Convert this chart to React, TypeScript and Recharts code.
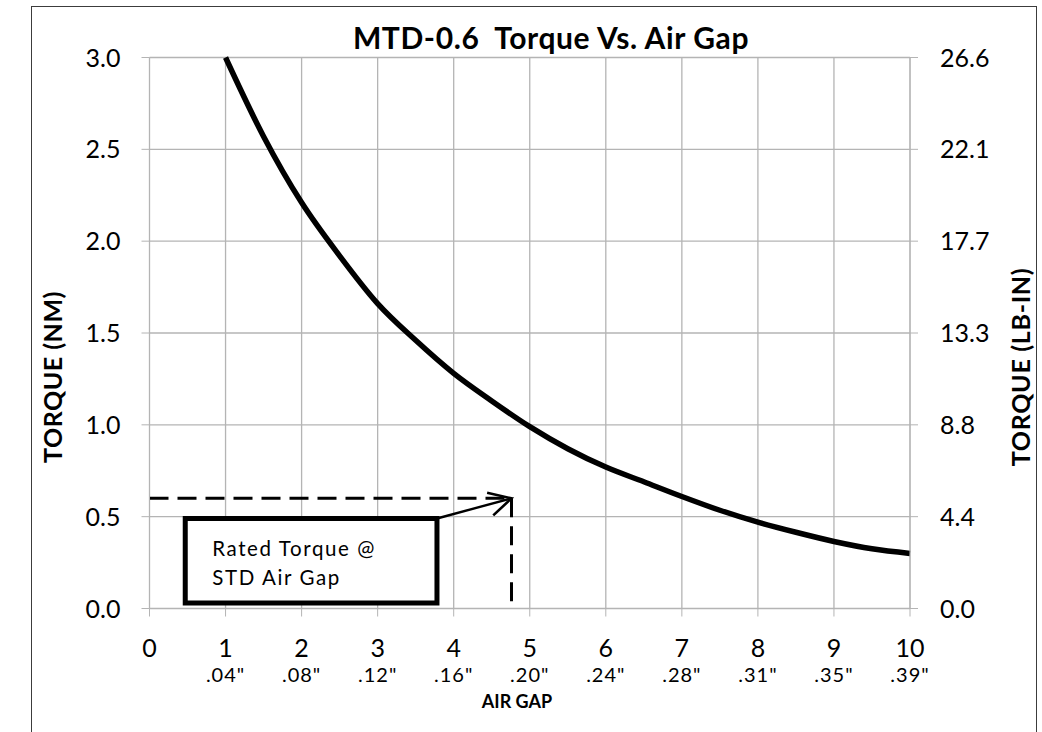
import React from "react";
import {
  LineChart,
  Line,
  XAxis,
  YAxis,
  CartesianGrid,
  ReferenceLine,
  ReferenceArea,
} from "recharts";

// ---- data ----
const AIR_GAP = [1, 1.5, 2, 2.5, 3, 3.5, 4, 4.5, 5, 5.5, 6, 6.5, 7, 7.5, 8, 8.5, 9, 9.5, 10];
const TORQUE_NM = [3.0, 2.57, 2.21, 1.92, 1.66, 1.46, 1.28, 1.13, 0.99, 0.87, 0.77, 0.69, 0.61, 0.535, 0.47, 0.415, 0.365, 0.325, 0.3];

const X_TICKS = [0, 1, 2, 3, 4, 5, 6, 7, 8, 9, 10];
const X_SUB_LABELS = ["", '.04"', '.08"', '.12"', '.16"', '.20"', '.24"', '.28"', '.31"', '.35"', '.39"'];
const Y_TICKS = [0, 0.5, 1, 1.5, 2, 2.5, 3];
const Y_LEFT_LABELS = ["0.0", "0.5", "1.0", "1.5", "2.0", "2.5", "3.0"];
const Y_RIGHT_LABELS = ["0.0", "4.4", "8.8", "13.3", "17.7", "22.1", "26.6"];

const RATED_TORQUE = 0.6;
const STD_AIR_GAP = 4.76;
const NOTE_X = [0.47, 3.78];
const NOTE_Y = [0.03, 0.49];
const NOTE_LINES = ["Rated Torque @", "STD Air Gap"];

const TITLE = "MTD-0.6  Torque Vs. Air Gap";
const LEFT_TITLE = "TORQUE (NM)";
const RIGHT_TITLE = "TORQUE (LB-IN)";
const X_TITLE = "AIR GAP";

const data = AIR_GAP.map((g, i) => ({ gap: g, nm: TORQUE_NM[i] }));

const FONT = "Lato, 'Open Sans', sans-serif";
const GRID = "#b4b4b4";

const XTick = (props: any) => {
  const { x, y, payload, index } = props;
  const i = X_TICKS.indexOf(payload.value);
  return (
    <g>
      <text x={x} y={y + 38} textAnchor="middle" fontFamily={FONT} fontSize={25} fill="#000">
        {payload.value}
      </text>
      <text
        x={x}
        y={y + 63}
        textAnchor="middle"
        fontFamily={FONT}
        fontSize={20}
        letterSpacing={1}
        fill="#000"
      >
        {X_SUB_LABELS[i >= 0 ? i : index]}
      </text>
    </g>
  );
};

const YTickLeft = (props: any) => {
  const { x, y, payload } = props;
  const i = Y_TICKS.indexOf(payload.value);
  return (
    <text x={x} y={y + 9} textAnchor="end" fontFamily={FONT} fontSize={25} fill="#000">
      {Y_LEFT_LABELS[i]}
    </text>
  );
};

const YTickRight = (props: any) => {
  const { x, y, payload } = props;
  const i = Y_TICKS.indexOf(payload.value);
  return (
    <text x={x} y={y + 9} textAnchor="start" fontFamily={FONT} fontSize={25} fill="#000">
      {Y_RIGHT_LABELS[i]}
    </text>
  );
};

const ArrowShape = (props: any) => {
  const { x1, y1, x2, y2 } = props;
  const ang = Math.atan2(y1 - y2, x1 - x2);
  const L = 25;
  const a = (28 * Math.PI) / 180;
  const ax1 = x2 + L * Math.cos(ang + a);
  const ay1 = y2 + L * Math.sin(ang + a);
  const ax2 = x2 + L * Math.cos(ang - a);
  const ay2 = y2 + L * Math.sin(ang - a);
  return (
    <g>
      <line x1={x1} y1={y1} x2={x2} y2={y2} stroke="#000" strokeWidth={2.4} />
      <polyline
        points={`${ax1},${ay1} ${x2},${y2} ${ax2},${ay2}`}
        fill="none"
        stroke="#000"
        strokeWidth={2.6}
      />
    </g>
  );
};

const NoteText = (props: any) => {
  const vb = props.viewBox || {};
  const { x = 0, y = 0 } = vb;
  return (
    <g>
      {NOTE_LINES.map((t, k) => (
        <text
          key={k}
          x={x + 27}
          y={y + 37 + k * 29}
          fontFamily={FONT}
          fontSize={20.5}
          letterSpacing={1.6}
          fill="#000"
        >
          {t}
        </text>
      ))}
    </g>
  );
};

const vText = (left: number, top: number, size: number, spacing: number, text: string) => (
  <div
    style={{
      position: "absolute",
      left,
      top,
      transform: "translate(-50%, -50%) rotate(-90deg)",
      fontFamily: FONT,
      fontWeight: 700,
      fontSize: size,
      letterSpacing: spacing,
      whiteSpace: "pre",
      lineHeight: 1,
    }}
  >
    {text}
  </div>
);

export default function App() {
  return (
    <div
      style={{
        position: "absolute",
        left: 0,
        top: 0,
        width: 1042,
        height: 732,
        overflow: "hidden",
        background: "#fff",
      }}
    >
      <div
        style={{
          position: "absolute",
          left: 31,
          top: 6,
          width: 1004,
          height: 760,
          border: "1.5px solid #3c3c3c",
        }}
      />
      <div style={{ position: "absolute", left: 0, top: 0 }}>
        <LineChart
          width={1042}
          height={732}
          data={data}
          margin={{ top: 57.5, right: 72, bottom: 63.5, left: 89.5 }}
        >
          <CartesianGrid stroke={GRID} strokeWidth={1.3} yAxisId="left" />
          <XAxis
            dataKey="gap"
            type="number"
            domain={[0, 10]}
            ticks={X_TICKS}
            interval={0}
            height={60}
            stroke={GRID}
            tickLine={{ stroke: GRID }}
            tickSize={8}
            tick={<XTick />}
          />
          <YAxis
            yAxisId="left"
            domain={[0, 3]}
            ticks={Y_TICKS}
            interval={0}
            width={60}
            stroke={GRID}
            tickLine={{ stroke: GRID }}
            tickSize={8}
            tickMargin={21}
            tick={<YTickLeft />}
          />
          <YAxis
            yAxisId="right"
            orientation="right"
            domain={[0, 3]}
            ticks={Y_TICKS}
            interval={0}
            width={60}
            stroke={GRID}
            tickLine={{ stroke: GRID }}
            tickSize={8}
            tickMargin={22}
            tick={<YTickRight />}
          />
          <ReferenceArea
            yAxisId="left"
            x1={NOTE_X[0]}
            x2={NOTE_X[1]}
            y1={NOTE_Y[0]}
            y2={NOTE_Y[1]}
            fill="#fff"
            fillOpacity={1}
            stroke="#000"
            strokeWidth={5}
            label={<NoteText />}
          />
          <ReferenceLine
            yAxisId="left"
            segment={[
              { x: 0, y: RATED_TORQUE },
              { x: STD_AIR_GAP, y: RATED_TORQUE },
            ]}
            stroke="#000"
            strokeWidth={3}
            strokeDasharray="19 9"
          />
          <ReferenceLine
            yAxisId="left"
            segment={[
              { x: STD_AIR_GAP, y: RATED_TORQUE },
              { x: STD_AIR_GAP, y: 0 },
            ]}
            stroke="#000"
            strokeWidth={3}
            strokeDasharray="19 9"
          />
          <ReferenceLine
            yAxisId="left"
            segment={[
              { x: NOTE_X[1], y: NOTE_Y[1] },
              { x: STD_AIR_GAP, y: RATED_TORQUE },
            ]}
            shape={<ArrowShape />}
          />
          <Line
            yAxisId="right"
            type="monotone"
            dataKey="nm"
            stroke="none"
            strokeWidth={0}
            dot={false}
            activeDot={false}
            isAnimationActive={false}
          />
          <Line
            yAxisId="left"
            type="monotone"
            dataKey="nm"
            stroke="#000"
            strokeWidth={5.5}
            dot={false}
            isAnimationActive={false}
          />
        </LineChart>
      </div>
      <div
        style={{
          position: "absolute",
          left: 551,
          top: 37,
          transform: "translate(-50%, -50%)",
          fontFamily: FONT,
          fontWeight: 700,
          fontSize: 30,
          letterSpacing: 0.6,
          whiteSpace: "pre",
          lineHeight: 1,
        }}
      >
        {TITLE}
      </div>
      {vText(52, 377, 25, 0.5, LEFT_TITLE)}
      {vText(1020, 367, 25, 0.7, RIGHT_TITLE)}
      <div
        style={{
          position: "absolute",
          left: 517,
          top: 701,
          transform: "translate(-50%, -50%)",
          fontFamily: FONT,
          fontWeight: 700,
          fontSize: 18,
          whiteSpace: "pre",
          lineHeight: 1,
        }}
      >
        {X_TITLE}
      </div>
    </div>
  );
}
